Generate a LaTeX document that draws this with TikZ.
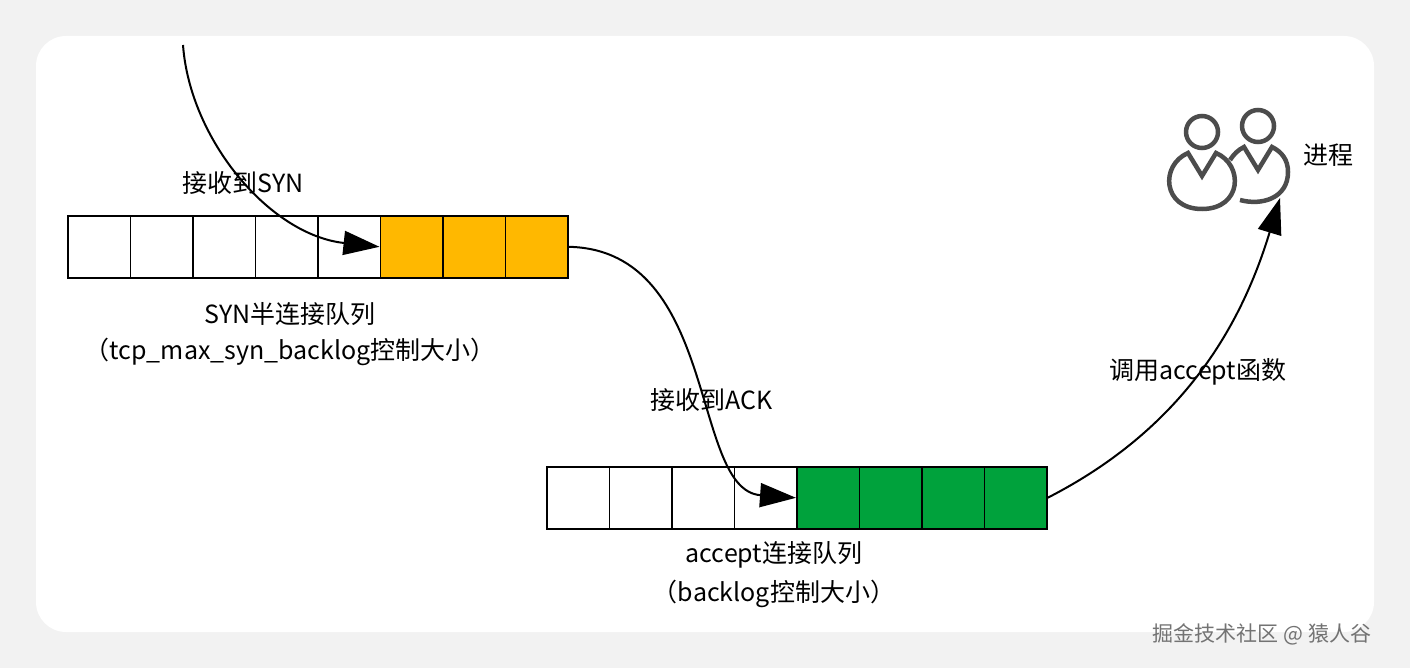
\documentclass[tikz,border=0pt]{standalone}
\usepackage{fontspec}
\setmainfont{Noto Sans CJK SC}
\usetikzlibrary{arrows.meta}
\definecolor{synfill}{HTML}{FFB800}
\definecolor{ackfill}{HTML}{00A23C}
\definecolor{panel}{HTML}{F2F2F2}
\begin{document}
\begin{tikzpicture}[x=1pt,y=-1pt,
    cell/.style={draw,line width=1.6pt,minimum width=62.5pt,minimum height=62pt,inner sep=0pt,anchor=north west},
    lbl/.style={font=\fontsize{25}{30}\selectfont},
    flow/.style={line width=2pt,-{Triangle[length=36pt,width=24pt]}},
    user/.style={line width=4.5pt,draw=black!70}]
    \useasboundingbox (0,0) rectangle (1410,668);
    \fill[panel] (0,0) rectangle (1410,668);
    \fill[white,rounded corners=30pt] (36,36) rectangle (1374,632);

    % SYN queue
    \foreach \i in {0,...,7}
    {   \pgfmathsetmacro\xx{67+62.5*\i}
        \ifnum\i<5 \node[cell,fill=white] (s\i) at (\xx,215) {};
        \else \node[cell,fill=synfill] (s\i) at (\xx,215) {}; \fi
    }
    % accept queue
    \foreach \i in {0,...,7}
    {   \pgfmathsetmacro\xx{546+62.5*\i}
        \ifnum\i<4 \node[cell,fill=white] (a\i) at (\xx,466) {};
        \else \node[cell,fill=ackfill] (a\i) at (\xx,466) {}; \fi
    }

    \node[lbl] (synq) at (290,314) {SYN半连接队列};
    \node[lbl] (synb) at (290,352) {（tcp\_max\_syn\_backlog控制大小）};
    \node[lbl] (accq) at (774,555) {accept连接队列};
    \node[lbl] (accb) at (774,594) {（backlog控制大小）};
    \node[lbl] (syn) at (243,183) {接收到SYN};
    \node[lbl] (ack) at (712,400) {接收到ACK};
    \node[lbl] (call) at (1198,372) {调用accept函数};
    \node[lbl,anchor=west] (proc) at (1300,155) {进程};
    \node[font=\fontsize{21}{25}\selectfont,text=black!55] (mark) at (1262,634) {掘金技术社区 @ 猿人谷};

    % process icon
    \coordinate (p1) at (1202,132);
    \coordinate (p2) at (1258,126);
    \draw[user] (p1) circle (16);
    \draw[user] (p2) circle (16);
    \draw[user] (1188,153) .. controls (1160,165) and (1162,209) .. (1202,209)
        .. controls (1242,209) and (1244,165) .. (1216,153) -- (1202,176) -- cycle;
    \draw[user] (1240,200) .. controls (1262,206) and (1288,198) .. (1288,172)
        .. controls (1288,160) and (1282,152) .. (1272,147) -- (1258,170) -- (1244,147)
        .. controls (1238,150) and (1234,154) .. (1230,160);
    \coordinate (icon) at (1280,198);

    \coordinate (top) at (183,45);
    \draw[flow] (top) .. controls (190,140) and (270,235) .. (s5.west);
    \draw[flow] (s7.east) .. controls (720,250) and (690,490) .. (a4.west);
    \draw[flow] (a7.east) .. controls (1180,430) and (1240,330) .. (icon);
\end{tikzpicture}
\end{document}
